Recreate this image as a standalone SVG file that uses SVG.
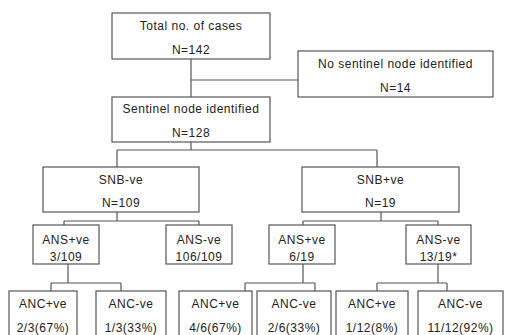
<svg xmlns="http://www.w3.org/2000/svg" width="505" height="335" viewBox="0 0 505 335">
<style>
.box{fill:#fff;stroke:#555;stroke-width:1.2}
.ln{fill:none;stroke:#555;stroke-width:1.2}
text{font-family:"Liberation Sans",Arial,sans-serif;font-size:12px;letter-spacing:0.5px;fill:#222;text-anchor:middle}
</style>
<rect width="505" height="335" fill="#fff"/>
<g id="connectors">
<path class="ln" d="M191,59V97M191,80H298"/>
<path class="ln" d="M191,142V150M117,150H377M117,150V167M377,150V167"/>
<path class="ln" d="M117,212V221M64,221H199M64,221V225M199,221V225"/>
<path class="ln" d="M381,212V221M303,221H438M303,221V225M438,221V225"/>
<path class="ln" d="M68,264V283M51,283H121M51,283V291M121,283V291"/>
<path class="ln" d="M303,264V283M245,283H315M245,283V291M315,283V291"/>
<path class="ln" d="M438,264V283M377,283H447M377,283V291M447,283V291"/>
</g>
<g id="total"><rect class="box" x="112" y="13" width="158" height="46"/><text x="191" y="29.5">Total no. of cases</text><text x="191" y="53.5">N=142</text></g>
<g id="nosentinel"><rect class="box" x="298" y="51" width="195" height="46"/><text x="395.5" y="67.5">No sentinel node identified</text><text x="395.5" y="91.5">N=14</text></g>
<g id="sentinel"><rect class="box" x="112" y="97" width="158" height="45"/><text x="191" y="113">Sentinel node identified</text><text x="191" y="137">N=128</text></g>
<g id="snbneg"><rect class="box" x="43" y="167" width="156" height="45"/><text x="121" y="183.5">SNB-ve</text><text x="121" y="206.5">N=109</text></g>
<g id="snbpos"><rect class="box" x="302" y="167" width="157" height="45"/><text x="380.5" y="183.5">SNB+ve</text><text x="380.5" y="206.5">N=19</text></g>
<g id="ans1"><rect class="box" x="33" y="225" width="66" height="39"/><text x="66" y="243.5">ANS+ve</text><text x="66" y="260.5">3/109</text></g>
<g id="ans2"><rect class="box" x="166" y="225" width="66" height="39"/><text x="199" y="243.5">ANS-ve</text><text x="199" y="260.5">106/109</text></g>
<g id="ans3"><rect class="box" x="269" y="225" width="66" height="39"/><text x="302" y="243.5">ANS+ve</text><text x="302" y="260.5">6/19</text></g>
<g id="ans4"><rect class="box" x="406" y="225" width="65" height="39"/><text x="438.5" y="243.5">ANS-ve</text><text x="438.5" y="260.5">13/19*</text></g>
<g id="anc1"><rect class="box" x="9" y="291" width="68" height="50"/><text x="43" y="307.5">ANC+ve</text><text x="43" y="331.5">2/3(67%)</text></g>
<g id="anc2"><rect class="box" x="96" y="291" width="70" height="50"/><text x="131" y="307.5">ANC-ve</text><text x="131" y="331.5">1/3(33%)</text></g>
<g id="anc3"><rect class="box" x="179" y="291" width="73" height="50"/><text x="215.5" y="307.5">ANC+ve</text><text x="215.5" y="331.5">4/6(67%)</text></g>
<g id="anc4"><rect class="box" x="257" y="291" width="74" height="50"/><text x="294" y="307.5">ANC-ve</text><text x="294" y="331.5">2/6(33%)</text></g>
<g id="anc5"><rect class="box" x="336" y="291" width="72" height="50"/><text x="372" y="307.5">ANC+ve</text><text x="372" y="331.5">1/12(8%)</text></g>
<g id="anc6"><rect class="box" x="418" y="291" width="85" height="50"/><text x="460.5" y="307.5">ANC-ve</text><text x="460.5" y="331.5">11/12(92%)</text></g>
</svg>
